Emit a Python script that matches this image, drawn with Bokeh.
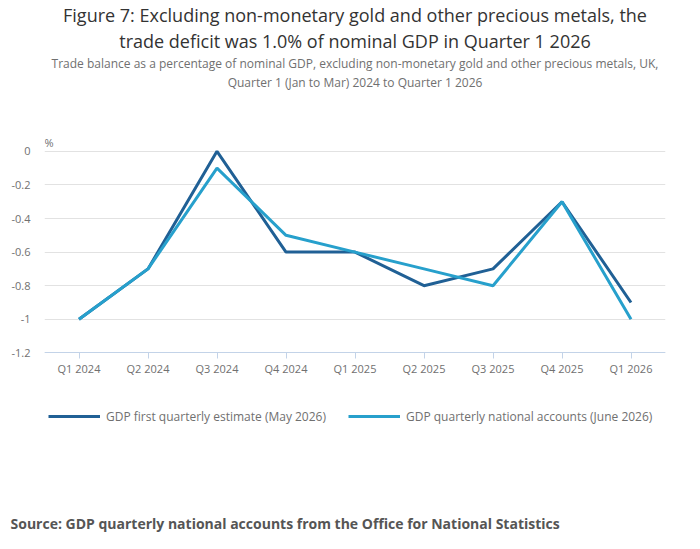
from bokeh.plotting import figure
from bokeh.models import FactorRange, Range1d, FixedTicker, Legend, LegendItem, Title, Label
from bokeh.embed import file_html
from bokeh.resources import INLINE

quarters = ["Q1 2024", "Q2 2024", "Q3 2024", "Q4 2024", "Q1 2025",
            "Q2 2025", "Q3 2025", "Q4 2025", "Q1 2026"]
first_estimate = [-1.0, -0.7, 0.0, -0.6, -0.6, -0.8, -0.7, -0.3, -0.9]
national_accounts = [-1.0, -0.7, -0.1, -0.5, -0.6, -0.7, -0.8, -0.3, -1.0]
y_ticks = [0, -0.2, -0.4, -0.6, -0.8, -1.0, -1.2]
y_tick_labels = ["0", "-0.2", "-0.4", "-0.6", "-0.8", "-1", "-1.2"]

FONT = "Open Sans"
GREY = "#707070"

# the frame runs on below the x axis so that the legend can sit inside it
p = figure(width=700, height=549, x_range=FactorRange(*quarters),
           y_range=Range1d(-2.1446, 0.3624), output_backend="svg",
           toolbar_location=None, title=None,
           min_border_left=44, min_border_right=35, min_border_top=0,
           min_border_bottom=38)

l1 = p.line(quarters, first_estimate, line_color="#206095", line_width=3)
l2 = p.line(quarters, national_accounts, line_color="#27a0cc", line_width=3)

p.outline_line_color = None
p.xgrid.grid_line_color = None
p.ygrid.grid_line_color = "#e2e2e2"
p.ygrid.grid_line_width = 1

p.yaxis.ticker = FixedTicker(ticks=y_ticks)
p.yaxis.major_label_overrides = dict(zip(y_ticks, y_tick_labels))
p.yaxis.axis_line_color = None
p.yaxis.major_tick_line_color = None
p.yaxis.minor_tick_line_color = None
p.yaxis.major_label_text_color = GREY
p.yaxis.major_label_text_font = FONT
p.yaxis.major_label_text_font_size = "11px"
p.yaxis.major_label_standoff = 8

p.xaxis.fixed_location = -1.2
p.xaxis.axis_line_color = "#c3d3e8"
p.xaxis.major_tick_line_color = "#c3d3e8"
p.xaxis.major_tick_in = 0
p.xaxis.major_tick_out = 6
p.xaxis.major_label_text_color = GREY
p.xaxis.major_label_text_font = FONT
p.xaxis.major_label_text_font_size = "11px"
p.xaxis.major_label_standoff = 2

p.add_layout(Label(x=0, y=0, text="%", x_offset=0, y_offset=1,
                   text_baseline="bottom", text_font=FONT,
                   text_font_size="11px", text_color=GREY))

legend = Legend(items=[
    LegendItem(label="GDP first quarterly estimate (May 2026)", renderers=[l1]),
    LegendItem(label="GDP quarterly national accounts (June 2026)", renderers=[l2]),
], orientation="horizontal", location=(4, 85), border_line_color=None,
    background_fill_alpha=0,
    label_text_font=FONT, label_text_font_size="12px", label_text_color=GREY,
    glyph_width=52, label_standoff=6, spacing=22, margin=0, padding=4)
p.add_layout(legend, "center")

p.add_layout(Title(text="Source:  GDP quarterly national accounts from the Office for National Statistics",
                   align="left", offset=-34, text_font=FONT, text_font_size="14px",
                   text_font_style="bold", text_color="#555555", standoff=0), "below")

titles = [
    ("Quarter 1 (Jan to Mar) 2024 to Quarter 1 2026", "12px", GREY),
    ("Trade balance as a percentage of nominal GDP, excluding non-monetary gold and other precious metals, UK,", "12px", GREY),
    ("trade deficit was 1.0% of nominal GDP in Quarter 1 2026", "18px", "#333333"),
    ("Figure 7: Excluding non-monetary gold and other precious metals, the", "18px", "#333333"),
]
for text, size, color in titles:
    p.add_layout(Title(text=text, align="center", offset=-5, text_font=FONT, text_font_size=size,
                       text_font_style="normal", text_color=color, standoff=0), "above")

open("out.html", "w").write(file_html(p, INLINE))
